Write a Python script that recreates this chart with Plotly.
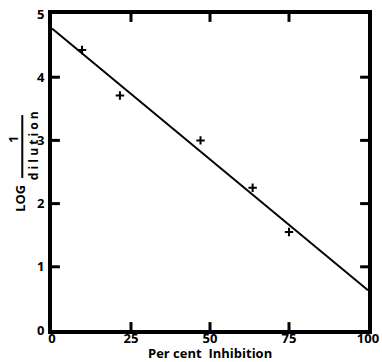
import plotly.graph_objects as go

# Data
inhibition = [9.5, 21.5, 47, 63.5, 75]
log_inv_dilution = [4.43, 3.71, 3.0, 2.25, 1.55]
fit_x = [0, 100]
fit_y = [4.77, 0.63]

x_ticks = [0, 25, 50, 75, 100]
y_ticks = [0, 1, 2, 3, 4, 5]

FONT = "Open Sans"
x_rng = [x_ticks[0], x_ticks[-1]]
y_rng = [y_ticks[0], y_ticks[-1]]

fig = go.Figure()
fig.add_trace(go.Scatter(x=fit_x, y=fit_y, mode="lines",
                         line=dict(color="black", width=2), showlegend=False))
fig.add_trace(go.Scatter(x=inhibition, y=log_inv_dilution, mode="markers",
                         marker=dict(symbol="cross-thin", size=6,
                                     line=dict(color="black", width=2)),
                         showlegend=False))

# Inward tick marks on all four sides, placed at the tick values
TICK = 0.025
tick_line = dict(color="black", width=3)
for v in x_ticks[1:-1]:
    fig.add_shape(type="line", xref="x", yref="paper", x0=v, x1=v, y0=0, y1=TICK, line=tick_line)
    fig.add_shape(type="line", xref="x", yref="paper", x0=v, x1=v, y0=1 - TICK, y1=1, line=tick_line)
for v in y_ticks[1:-1]:
    fig.add_shape(type="line", xref="paper", yref="y", x0=0, x1=TICK, y0=v, y1=v, line=tick_line)
    fig.add_shape(type="line", xref="paper", yref="y", x0=1 - TICK, x1=1, y0=v, y1=v, line=tick_line)

axis_common = dict(showline=True, linewidth=4, linecolor="black", mirror=True,
                   ticks="", showgrid=False, zeroline=False, automargin=False,
                   tickfont=dict(family=FONT, size=13, color="black", weight="bold"))

fig.update_xaxes(range=x_rng, tickvals=x_ticks, ticktext=[str(v) for v in x_ticks],
                 ticklabelstandoff=-7, **axis_common)
fig.update_yaxes(range=y_rng, tickvals=y_ticks, ticktext=[str(v) for v in y_ticks],
                 ticklabelstandoff=1, **axis_common)

ann_font = dict(family=FONT, size=13, color="black", weight="bold")
common_ann = dict(xref="paper", yref="paper", showarrow=False,
                  xanchor="center", yanchor="middle")
fig.add_annotation(text="Per cent  Inhibition", x=0.5, y=-0.074, font=ann_font, **common_ann)
fig.add_annotation(text="LOG", x=-0.101, y=0.415, textangle=-90, font=ann_font, **common_ann)
fig.add_annotation(text="1", x=-0.123, y=0.602, textangle=-90, font=ann_font, **common_ann)
fig.add_annotation(text="d i l u t i o n", x=-0.060, y=0.582, textangle=-90,
                   font=dict(family=FONT, size=12, color="black", weight="bold"), **common_ann)
fig.add_shape(type="line", xref="paper", yref="paper", x0=-0.094, x1=-0.094,
              y0=0.481, y1=0.680, line=dict(color="black", width=2))

fig.update_layout(width=382, height=362, margin=dict(l=52, r=14, t=14, b=32),
                  plot_bgcolor="white", paper_bgcolor="white")

fig.write_html("out.html", config={"displayModeBar": False},
               post_script="document.body.style.margin='0';document.body.style.overflow='hidden';")
